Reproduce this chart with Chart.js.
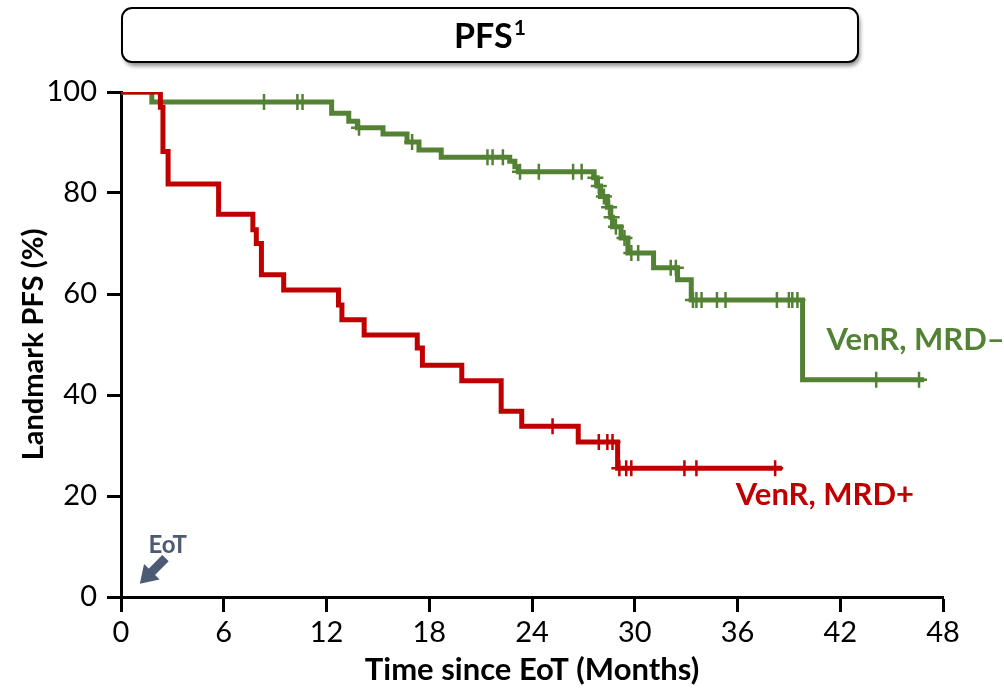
<!DOCTYPE html>
<html>
<head>
<meta charset="utf-8">
<script src="https://cdn.jsdelivr.net/npm/chart.js@4.4.1/dist/chart.umd.min.js"></script>
<style>
  html, body { margin: 0; padding: 0; background: #fff; }
  #wrap { width: 1004px; height: 690px; position: relative; }
</style>
</head>
<body>
<div id="wrap"><canvas id="km"></canvas></div>
<script>
// MRD-negative arm: event times (months) and survival (%) after each event
const negTimes = [1.8, 12.3, 13.3, 13.8, 15.3, 16.7, 17.4, 18.7, 22.7, 23.0, 23.2, 27.6, 27.8, 28.0, 28.4, 28.6, 28.7, 29.2, 29.6, 31.1, 32.5, 33.3, 39.8];
const negSurv  = [98.0, 95.8, 94.2, 92.9, 91.7, 90.1, 88.5, 87.1, 86.3, 85.2, 84.2, 83.0, 81.4, 79.3, 77.2, 75.2, 73.3, 71.1, 68.1, 65.2, 62.8, 58.8, 43.0];
const negEnd = 46.9;
const negCensor = [8.35, 10.3, 10.6, 13.9, 17.0, 21.4, 21.7, 22.3, 23.3, 24.4, 26.4, 26.9, 27.7, 27.9, 28.2, 28.5, 28.65, 28.9, 29.4, 29.8, 30.2, 32.1, 32.4, 33.4, 33.6, 33.9, 34.8, 35.3, 38.3, 39.0, 39.2, 39.5, 44.1, 46.6];

// MRD-positive arm
const posTimes = [2.3, 2.45, 2.75, 5.7, 7.7, 7.9, 8.2, 9.5, 12.7, 12.9, 14.2, 17.3, 17.6, 19.9, 22.2, 23.4, 26.7, 29.0];
const posSurv  = [97.0, 88.2, 81.8, 75.8, 72.7, 70.0, 63.8, 60.8, 57.8, 54.9, 51.9, 49.3, 45.9, 42.8, 36.8, 33.8, 30.7, 25.5];
const posEnd = 38.6;
const posCensor = [25.2, 27.9, 28.4, 28.7, 29.1, 29.5, 29.8, 32.9, 33.6, 38.2];

const xTicks = [0, 6, 12, 18, 24, 30, 36, 42, 48];
const yTicks = [0, 20, 40, 60, 80, 100];

const GREEN = '#548235';
const RED = '#C00000';
const SLATE = '#4B5B74';
const FONT = 'Lato, "Open Sans", sans-serif';

function stepPoints(times, surv, end) {
    const pts = [{ x: 0, y: 100 }];
    times.forEach((t, i) => pts.push({ x: t, y: surv[i] }));
    pts.push({ x: end, y: surv[surv.length - 1] });
    return pts;
}

function survAt(times, surv, t) {
    let s = 100;
    times.forEach((tt, i) => { if (tt <= t) s = surv[i]; });
    return s;
}

function censorPoints(times, surv, cens) {
    return cens.map(t => ({ x: t, y: survAt(times, surv, t) }));
}

const extras = {
    id: 'extras',
    afterDraw(chart) {
        const ctx = chart.ctx;
        const xs = chart.scales.x, ys = chart.scales.y;
        ctx.save();

        // title box
        const bx = 122, by = 8, bw = 736, bh = 54;
        ctx.shadowColor = 'rgba(0,0,0,0.45)';
        ctx.shadowBlur = 4;
        ctx.shadowOffsetX = 2;
        ctx.shadowOffsetY = 4;
        ctx.fillStyle = '#fff';
        ctx.beginPath();
        ctx.roundRect(bx, by, bw, bh, 10);
        ctx.fill();
        ctx.shadowColor = 'transparent';
        ctx.lineWidth = 2;
        ctx.strokeStyle = '#000';
        ctx.stroke();

        ctx.fillStyle = '#000';
        ctx.textBaseline = 'alphabetic';
        ctx.font = 'bold 34px ' + FONT;
        const w1 = ctx.measureText('PFS').width;
        ctx.font = 'bold 21px ' + FONT;
        const w2 = ctx.measureText('1').width;
        const tx = bx + bw / 2 - (w1 + w2 + 1) / 2;
        ctx.font = 'bold 34px ' + FONT;
        ctx.textAlign = 'left';
        ctx.fillText('PFS', tx, 48);
        ctx.font = 'bold 21px ' + FONT;
        ctx.fillText('1', tx + w1 + 1, 35);

        // group labels
        ctx.font = 'bold 31px ' + FONT;
        ctx.textBaseline = 'middle';
        ctx.fillStyle = GREEN;
        ctx.fillText('VenR, MRD\u2013', xs.getPixelForValue(41.2), ys.getPixelForValue(50.8));
        ctx.fillStyle = RED;
        ctx.fillText('VenR, MRD+', xs.getPixelForValue(35.9), ys.getPixelForValue(20.2));

        // EoT marker
        ctx.fillStyle = SLATE;
        ctx.font = 'bold 24px ' + FONT;
        ctx.fillText('EoT', xs.getPixelForValue(1.6), ys.getPixelForValue(10.2));
        const ax = xs.getPixelForValue(1.1), ay = ys.getPixelForValue(2.6);
        const ex = xs.getPixelForValue(2.6), ey = ys.getPixelForValue(7.7);
        const ang = Math.atan2(ey - ay, ex - ax);
        ctx.strokeStyle = SLATE;
        ctx.lineWidth = 9;
        ctx.beginPath();
        ctx.moveTo(ax + 12 * Math.cos(ang), ay + 12 * Math.sin(ang));
        ctx.lineTo(ex, ey);
        ctx.stroke();
        ctx.beginPath();
        ctx.moveTo(ax, ay);
        ctx.lineTo(ax + 17 * Math.cos(ang) - 11 * Math.sin(ang), ay + 17 * Math.sin(ang) + 11 * Math.cos(ang));
        ctx.lineTo(ax + 17 * Math.cos(ang) + 11 * Math.sin(ang), ay + 17 * Math.sin(ang) - 11 * Math.cos(ang));
        ctx.closePath();
        ctx.fill();

        ctx.restore();
    }
};

const data = {
    datasets: [
        {
            label: 'VenR, MRD+',
            data: stepPoints(posTimes, posSurv, posEnd),
            borderColor: RED,
            borderWidth: 5,
            stepped: true,
            pointRadius: 0,
            fill: false
        },
        {
            label: 'MRD+ censored',
            data: censorPoints(posTimes, posSurv, posCensor),
            showLine: false,
            pointStyle: 'cross',
            pointRadius: 8,
            borderColor: RED,
            borderWidth: 2.5
        },
        {
            label: 'VenR, MRD-',
            data: stepPoints(negTimes, negSurv, negEnd),
            borderColor: GREEN,
            borderWidth: 5,
            stepped: true,
            pointRadius: 0,
            fill: false
        },
        {
            label: 'MRD- censored',
            data: censorPoints(negTimes, negSurv, negCensor),
            showLine: false,
            pointStyle: 'cross',
            pointRadius: 8,
            borderColor: GREEN,
            borderWidth: 2.5
        }
    ]
};

const config = {
    type: 'line',
    data: data,
    plugins: [extras],
    options: {
        responsive: false,
        animation: false,
        layout: { padding: { top: 92, right: 61, left: 0, bottom: 0 } },
        scales: {
            x: {
                type: 'linear',
                min: 0,
                max: 48,
                afterBuildTicks: s => { s.ticks = xTicks.map(v => ({ value: v })); },
                afterFit: s => { s.height = 93; },
                grid: { drawOnChartArea: false, drawTicks: true, tickLength: 15, tickWidth: 3, tickColor: '#000' },
                border: { color: '#000', width: 3 },
                ticks: { color: '#000', font: { family: FONT, size: 29 }, padding: 3, maxRotation: 0 },
                title: { display: true, text: 'Time since EoT (Months)', color: '#000', font: { family: FONT, size: 31, weight: 'bold' }, padding: { top: 0, bottom: 1 } }
            },
            y: {
                min: 0,
                max: 100,
                afterBuildTicks: s => { s.ticks = yTicks.map(v => ({ value: v })); },
                afterFit: s => { s.width = 121; },
                grid: { drawOnChartArea: false, drawTicks: true, tickLength: 14, tickWidth: 3, tickColor: '#000' },
                border: { color: '#000', width: 3 },
                ticks: { color: '#000', font: { family: FONT, size: 29 }, padding: 10 },
                title: { display: true, text: 'Landmark PFS (%)', color: '#000', font: { family: FONT, size: 29, weight: 'bold' }, padding: { top: 16, bottom: 0 } }
            }
        },
        plugins: {
            legend: { display: false },
            tooltip: { enabled: false }
        }
    }
};

const canvas = document.getElementById('km');
canvas.width = 1004;
canvas.height = 690;
new Chart(canvas, config);
</script>
</body>
</html>
